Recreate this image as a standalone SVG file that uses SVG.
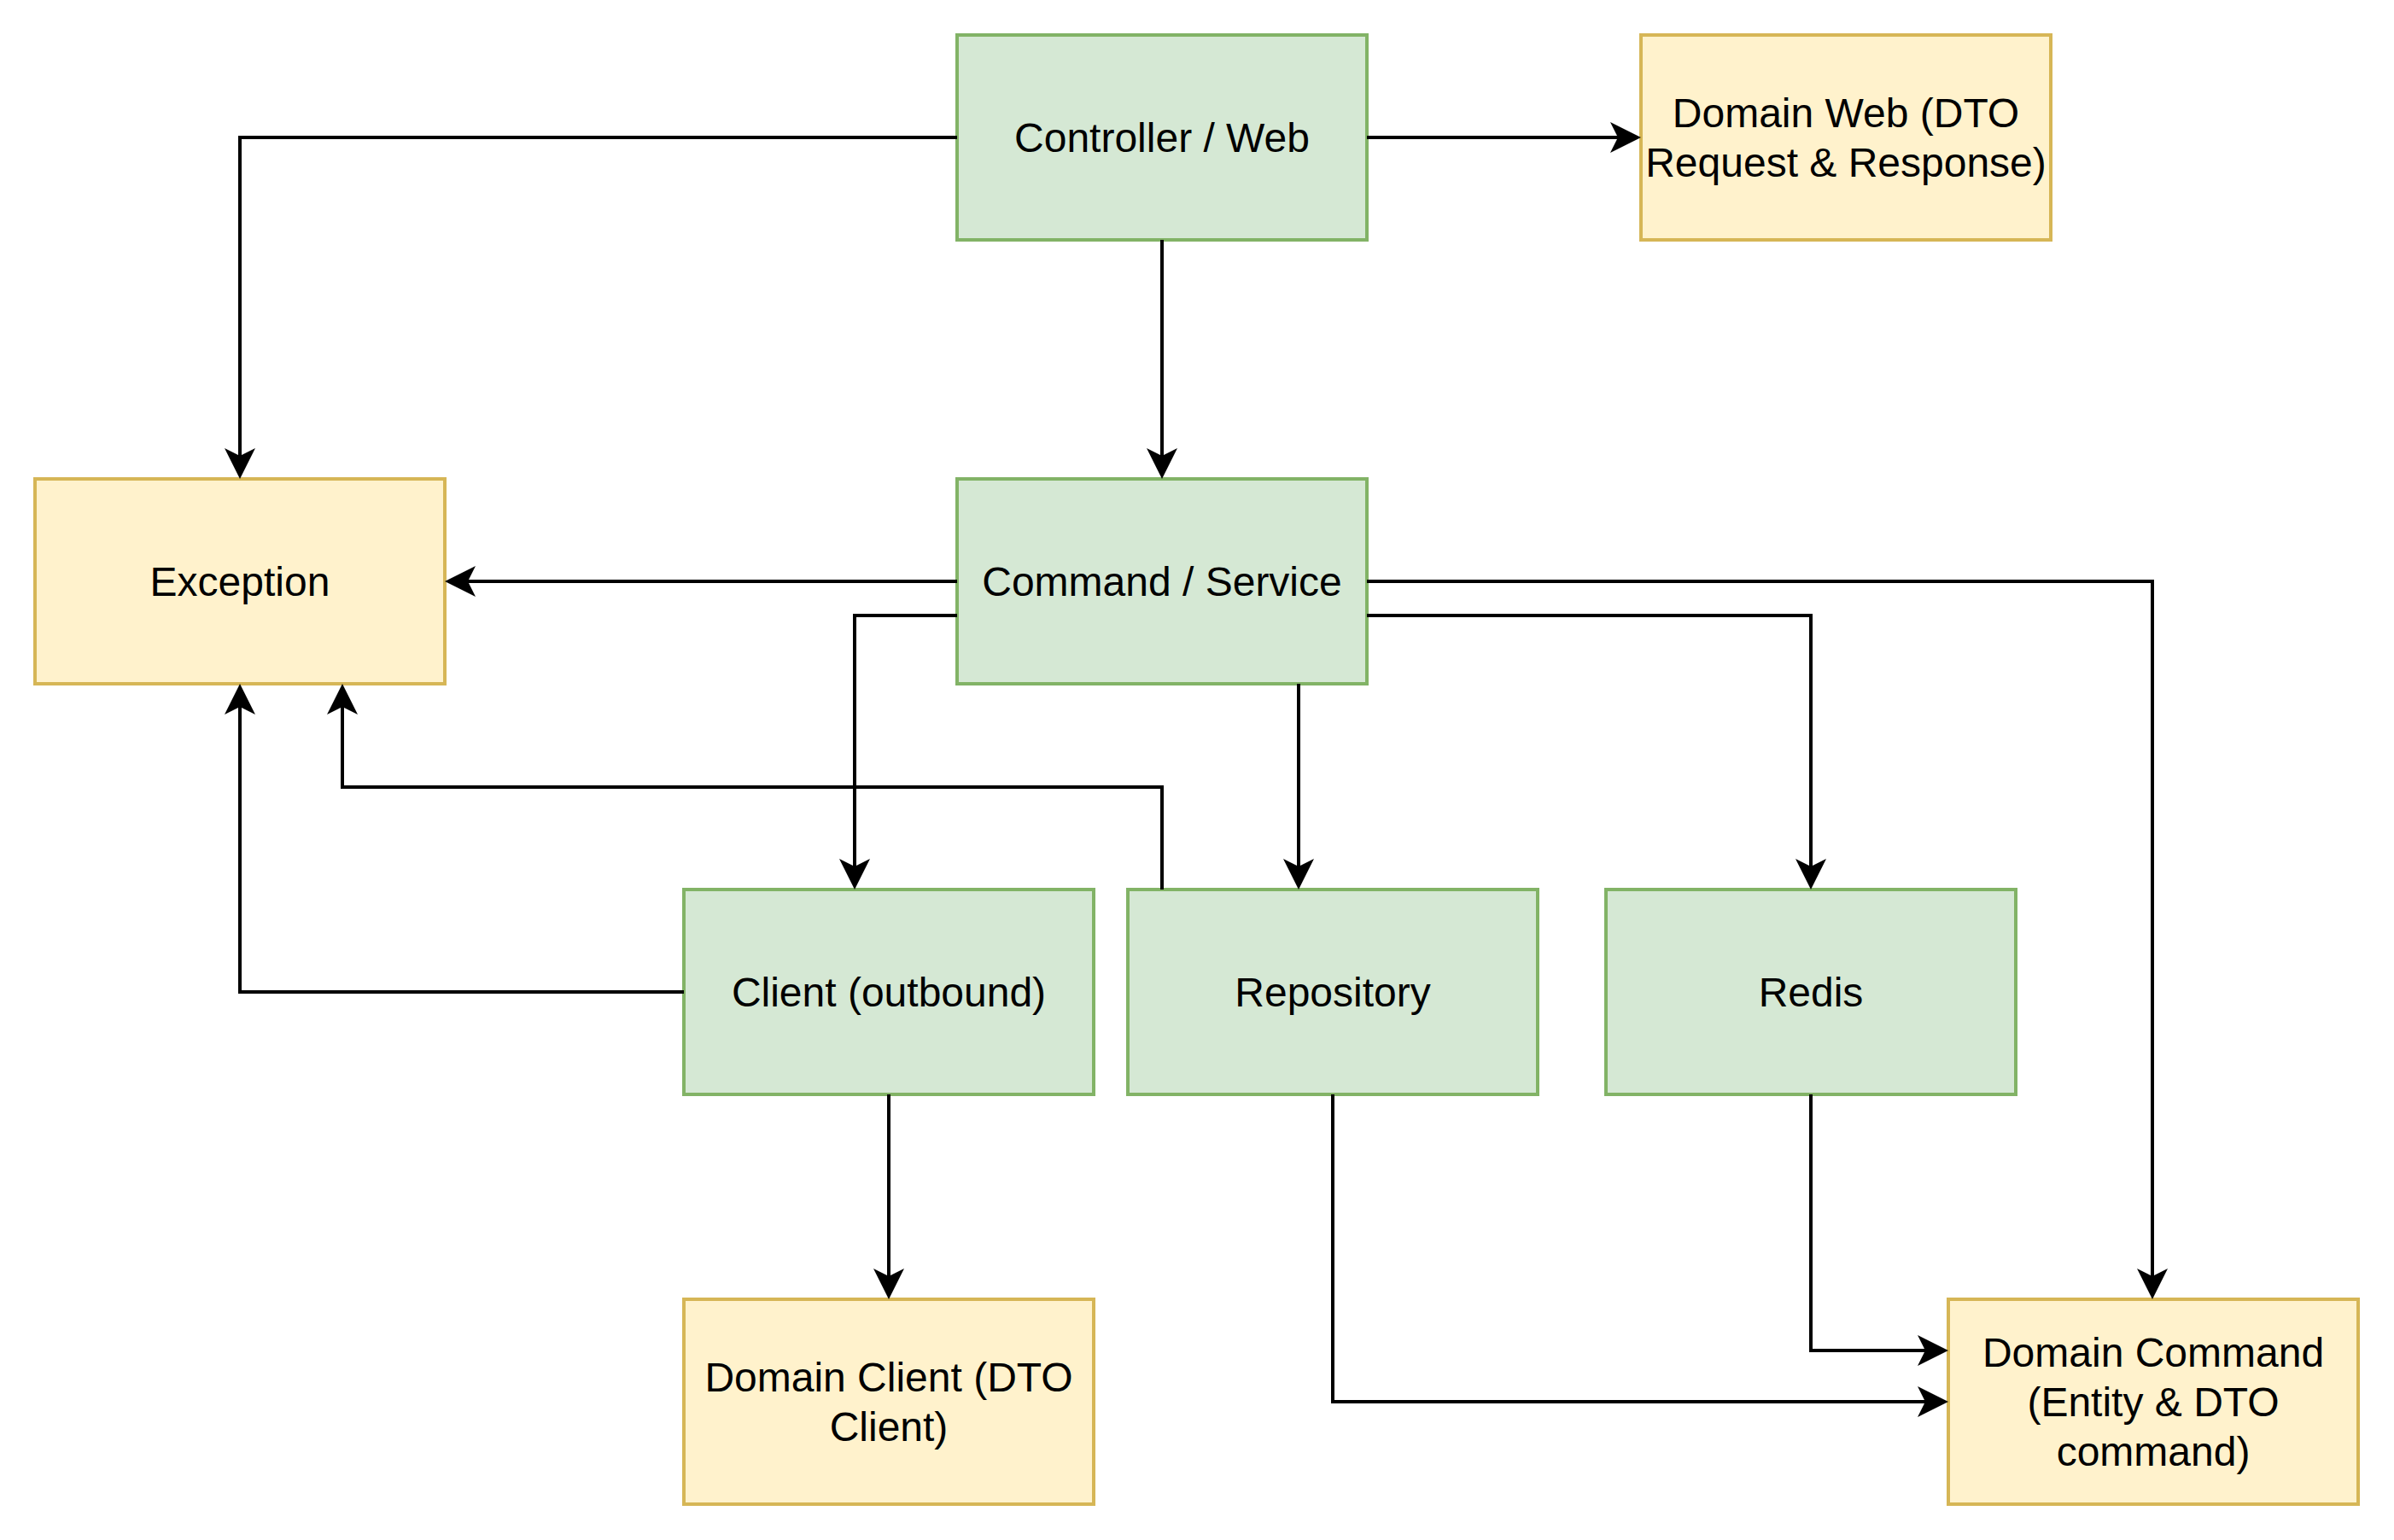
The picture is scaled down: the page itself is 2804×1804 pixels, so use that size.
<svg xmlns="http://www.w3.org/2000/svg" width="2804" height="1804" viewBox="0 0 2804 1804">
<style>
.g{fill:#d5e8d4;stroke:#82b366;stroke-width:4}
.y{fill:#fff2cc;stroke:#d6b656;stroke-width:4}
text{font-family:"Liberation Sans",Arial,Helvetica,sans-serif;font-size:48px;fill:#000;text-anchor:middle;dominant-baseline:central}
.c path{fill:none;stroke:#000;stroke-width:4;marker-end:url(#arr)}
</style>
<defs>
<marker id="arr" viewBox="0 0 36 36" refX="18" refY="18" markerWidth="36" markerHeight="36" orient="auto" markerUnits="userSpaceOnUse">
<path d="M0,0 L36,18 L0,36 L9,18 Z" fill="#000"/>
</marker>
</defs>
<rect width="2804" height="1804" fill="#fff"/>
<g id="controller"><rect class="g" x="1121" y="41" width="480" height="240"/><text x="1361" y="161">Controller / Web</text></g>
<g id="domain-web"><rect class="y" x="1922" y="41" width="480" height="240"/><text x="2162" y="132">Domain Web (DTO</text><text x="2162" y="190">Request &amp; Response)</text></g>
<g id="exception"><rect class="y" x="41" y="561" width="480" height="240"/><text x="281" y="681">Exception</text></g>
<g id="command"><rect class="g" x="1121" y="561" width="480" height="240"/><text x="1361" y="681">Command / Service</text></g>
<g id="client"><rect class="g" x="801" y="1042" width="480" height="240"/><text x="1041" y="1162">Client (outbound)</text></g>
<g id="repository"><rect class="g" x="1321" y="1042" width="480" height="240"/><text x="1561" y="1162">Repository</text></g>
<g id="redis"><rect class="g" x="1881" y="1042" width="480" height="240"/><text x="2121" y="1162">Redis</text></g>
<g id="domain-client"><rect class="y" x="801" y="1522" width="480" height="240"/><text x="1041" y="1613">Domain Client (DTO</text><text x="1041" y="1671">Client)</text></g>
<g id="domain-command"><rect class="y" x="2282" y="1522" width="480" height="240"/><text x="2522" y="1584">Domain Command</text><text x="2522" y="1642">(Entity &amp; DTO</text><text x="2522" y="1700">command)</text></g>
<g id="connectors" class="c">
<path d="M1121,161 H281 V543"/>
<path d="M1601,161 H1904"/>
<path d="M1361,281 V543"/>
<path d="M1121,681 H539"/>
<path d="M1121,721 H1001 V1024"/>
<path d="M1521,801 V1024"/>
<path d="M1601,721 H2121 V1024"/>
<path d="M1601,681 H2521 V1504"/>
<path d="M1361,1042 V922 H401 V819"/>
<path d="M801,1162 H281 V819"/>
<path d="M1041,1282 V1504"/>
<path d="M1561,1282 V1642 H2264"/>
<path d="M2121,1282 V1582 H2264"/>
</g>
</svg>
